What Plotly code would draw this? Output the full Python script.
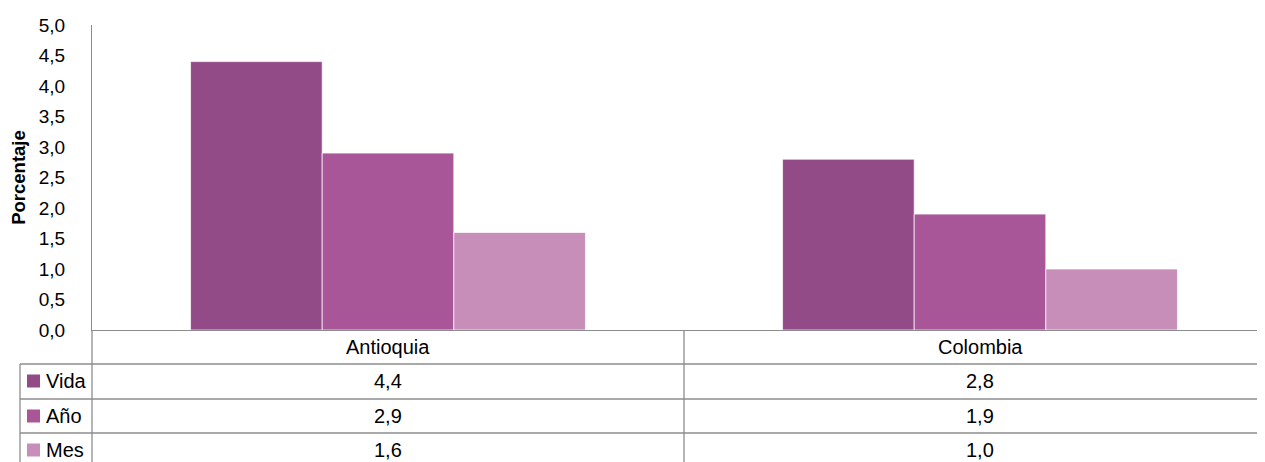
import plotly.graph_objects as go

# data
categories = ["Antioquia", "Colombia"]
series_names = ["Vida", "Año", "Mes"]
vida = [4.4, 2.8]
anio = [2.9, 1.9]
mes = [1.6, 1.0]
y_ticks = [0, 0.5, 1, 1.5, 2, 2.5, 3, 3.5, 4, 4.5, 5]

colors = ["#934B87", "#A85698", "#C88EBA"]
series_values = [vida, anio, mes]

# the page body has a default 8px margin, so the figure is drawn offset by it
OFF = 8
W, H = 1265 - OFF, 462 - OFF
LEFT, TOP, BOTTOM = 92 - OFF, 25 - OFF, 330 - OFF   # plot area in figure pixels
PLOT_W = W - LEFT
PLOT_H = BOTTOM - TOP
CAT_PX = 592                         # pixel width of one category slot
GRID = "#8C8C8C"
FONT = "Liberation Sans, Arial, sans-serif"


def px_x(x):
    # x given in screen pixels
    return (x - OFF - LEFT) / PLOT_W


def px_y(y):
    # y given in screen pixels
    return (BOTTOM - (y - OFF)) / PLOT_H


fig = go.Figure()
for name, vals, col in zip(series_names, series_values, colors):
    fig.add_trace(go.Bar(
        x=categories, y=vals, name=name,
        marker=dict(color=col, line=dict(color="rgba(255,255,255,0.7)", width=1)),
        hoverinfo="x+y+name",
    ))

# table below the chart: row boundaries in screen pixels
row_lines = [364, 399, 433]
row_centers = [381, 416, 450]
shapes = []
for y in row_lines:
    shapes.append(dict(type="line", xref="paper", yref="paper",
                       x0=px_x(20), x1=1, y0=px_y(y), y1=px_y(y),
                       line=dict(color=GRID, width=1.3)))
# vertical lines
shapes.append(dict(type="line", xref="paper", yref="paper",
                   x0=px_x(20), x1=px_x(20), y0=px_y(364), y1=px_y(470),
                   line=dict(color=GRID, width=1.3)))
shapes.append(dict(type="line", xref="paper", yref="paper",
                   x0=0, x1=0, y0=0, y1=px_y(470),
                   line=dict(color=GRID, width=1.3)))
shapes.append(dict(type="line", xref="x", yref="paper",
                   x0=0.5, x1=0.5, y0=0, y1=px_y(470),
                   line=dict(color=GRID, width=1.3)))

annotations = []
# category labels row
for cat in categories:
    annotations.append(dict(x=cat, xref="x", y=px_y(347), yref="paper",
                            text=cat, showarrow=False,
                            xanchor="center", yanchor="middle",
                            font=dict(size=20, color="black", family=FONT)))
# legend keys + values
for name, vals, col, yc in zip(series_names, series_values, colors, row_centers):
    shapes.append(dict(type="rect", xref="paper", yref="paper",
                       x0=px_x(27), x1=px_x(40), y0=px_y(yc + 6.5), y1=px_y(yc - 6.5),
                       fillcolor=col, line=dict(width=0)))
    annotations.append(dict(x=px_x(44), xref="paper", y=px_y(yc), yref="paper",
                            text=name, showarrow=False,
                            xanchor="left", yanchor="middle",
                            font=dict(size=20, color="black", family=FONT)))
    for cat, v in zip(categories, vals):
        annotations.append(dict(x=cat, xref="x", y=px_y(yc), yref="paper",
                                text=f"{v:.1f}".replace(".", ","), showarrow=False,
                                xanchor="center", yanchor="middle",
                                font=dict(size=20, color="black", family=FONT)))

fig.update_layout(
    width=W, height=H,
    autosize=False,
    margin=dict(l=LEFT, r=0, t=TOP, b=H - BOTTOM, pad=0),
    paper_bgcolor="white",
    plot_bgcolor="white",
    showlegend=False,
    barmode="group",
    bargap=0.333,
    bargroupgap=0,
    separators=",.",
    font=dict(family=FONT, color="black", size=19),
    xaxis=dict(
        range=[-0.5, -0.5 + PLOT_W / CAT_PX],
        showticklabels=False, ticks="",
        showline=True, linecolor=GRID, linewidth=1.3,
        showgrid=False, zeroline=False, fixedrange=True,
    ),
    yaxis=dict(
        range=[0, 5],
        tickvals=y_ticks, tickformat=".1f",
        ticks="", ticklabelstandoff=22,
        tickfont=dict(size=19, color="black", family=FONT),
        showline=True, linecolor=GRID, linewidth=1.3,
        showgrid=False, zeroline=False, fixedrange=True,
        title=dict(text="<b>Porcentaje</b>", standoff=11,
                   font=dict(size=18.5, color="black", family=FONT)),
    ),
    shapes=shapes,
    annotations=annotations,
)

fig.write_html("out.html")
